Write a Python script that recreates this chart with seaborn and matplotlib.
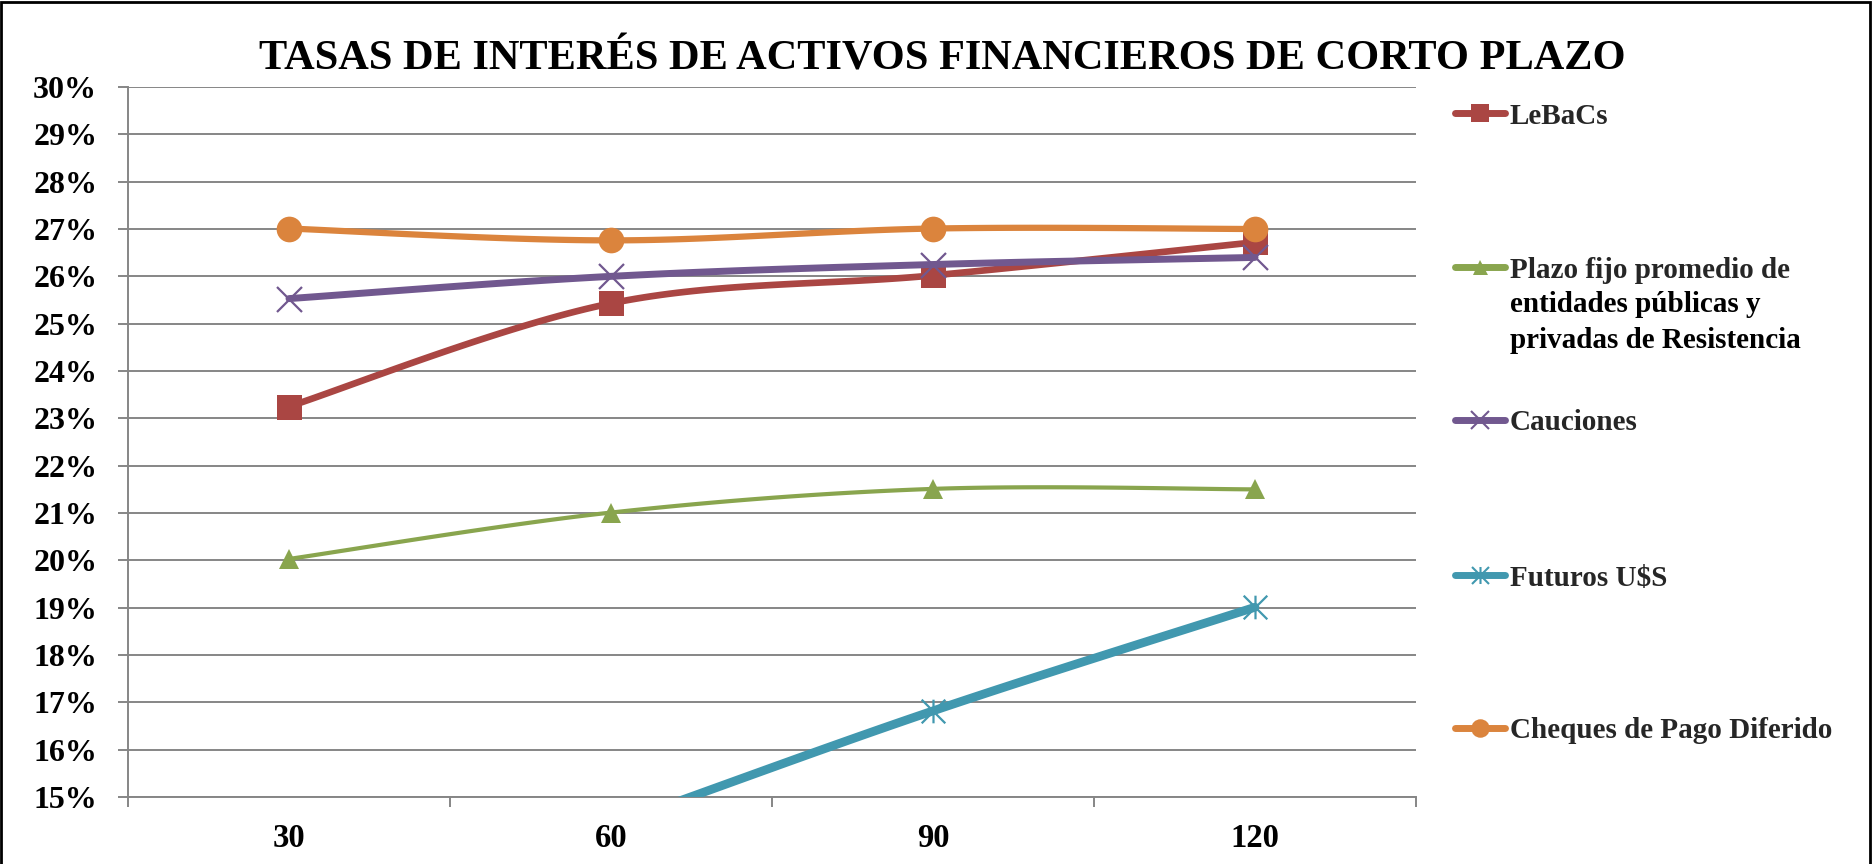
import numpy as np
import matplotlib
matplotlib.use('Agg')
import matplotlib.pyplot as plt
from matplotlib.lines import Line2D
from matplotlib.patches import Rectangle
from matplotlib.path import Path
from matplotlib.ticker import PercentFormatter, FixedLocator
import seaborn as sns

# Datos (tasas)
plazos = ['30', '60', '90', '120']
lebacs = [0.2325, 0.2543, 0.2602, 0.2672]
plazo_fijo = [0.2003, 0.2101, 0.2151, 0.2150]
cauciones = [0.2553, 0.2600, 0.2625, 0.2640]
futuros = [0.1200, 0.1440, 0.1682, 0.1901]
cheques = [0.2701, 0.2676, 0.2701, 0.2700]

nombres = ['LeBaCs', 'Plazo fijo promedio de', 'Cauciones', 'Futuros U$S',
           'Cheques de Pago Diferido']
series = [lebacs, plazo_fijo, cauciones, futuros, cheques]
colores = ['#AA4643', '#89A54E', '#71588F', '#4198AF', '#DB843D']

# marcador "estrella" de Excel: aspa + barra vertical
estrella = Path([(0, -1), (0, 1), (-1, -1), (1, 1), (-1, 1), (1, -1)],
                [Path.MOVETO, Path.LINETO, Path.MOVETO, Path.LINETO, Path.MOVETO, Path.LINETO])
marcadores = ['s', '^', 'x', estrella, 'o']
tam_marc = [18, 15, 18, 17, 18.5]
anchos = [4.8, 3.0, 5.0, 6.3, 4.5]
lineales = [False, False, True, True, False]


def suavizar(y, pasos=40):
    # curva suavizada tipo Excel (Bezier entre puntos consecutivos)
    x = np.arange(len(y), dtype=float)
    p = np.column_stack([x, np.asarray(y, dtype=float)])
    n = len(p)
    out = []
    for i in range(n - 1):
        p0, p3 = p[i], p[i + 1]
        prev = p[i - 1] if i > 0 else p[i]
        nxt = p[i + 2] if i + 2 < n else p[i + 1]
        c1 = p0 + (p3 - prev) / 6
        c2 = p3 - (nxt - p0) / 6
        t = np.linspace(0, 1, pasos)[:, None]
        seg = ((1 - t) ** 3) * p0 + 3 * ((1 - t) ** 2) * t * c1 + 3 * (1 - t) * t ** 2 * c2 + t ** 3 * p3
        out.append(seg if i == 0 else seg[1:])
    out = np.vstack(out)
    return out[:, 0], out[:, 1]


sns.set_theme(style='white')
plt.rcParams['font.family'] = ['Liberation Serif', 'DejaVu Serif']
plt.rcParams['font.weight'] = 'bold'

fig = plt.figure(figsize=(18.74, 8.64), dpi=100)
ax = fig.add_axes([0.0683, 0.0775, 0.6873, 0.8218])

xpos = np.arange(len(plazos))
for k, (vals, col, mk, ms, lw, lin) in enumerate(zip(series, colores, marcadores, tam_marc,
                                                     anchos, lineales)):
    xs, ys = suavizar(vals)
    sns.lineplot(x=xs, y=ys, sort=False, estimator=None, color=col, linewidth=lw,
                 ax=ax, zorder=3 + k, solid_capstyle='round')
    ax.plot(xpos, vals, linestyle='none', marker=mk, markersize=ms, color=col,
            markeredgecolor=col, markeredgewidth=1.6 if lin else 0,
            markerfacecolor='none' if lin else col, zorder=3 + k,
            clip_on=min(vals) < 0.15)

ax.set_xlim(-0.5, len(plazos) - 0.5)
ax.set_ylim(0.15, 0.30)
ax.set_yticks(np.arange(0.15, 0.3001, 0.01))
ax.yaxis.set_major_formatter(PercentFormatter(1, decimals=0))
ax.set_xticks(xpos)
ax.set_xticklabels(plazos)
ax.xaxis.set_minor_locator(FixedLocator(np.arange(-0.5, len(plazos), 1.0)))

gris = '#868686'
ax.grid(axis='y', color=gris, linewidth=1.4)
ax.grid(axis='x', visible=False)
for s in ['top', 'right']:
    ax.spines[s].set_visible(False)
for s in ['left', 'bottom']:
    ax.spines[s].set_color(gris)
    ax.spines[s].set_linewidth(1.4)
ax.tick_params(axis='y', which='major', left=True, length=7.2, width=1.4, color=gris,
               labelsize=23, pad=15, labelcolor='black')
ax.tick_params(axis='x', which='major', bottom=False, length=0, labelsize=23.5, pad=19,
               labelcolor='black')
ax.tick_params(axis='x', which='minor', bottom=True, length=7.2, width=1.4, color=gris)
for lab in ax.get_yticklabels() + ax.get_xticklabels():
    lab.set_fontweight('bold')

fig.text(0.503, 1 - 70 / 864, 'TASAS DE INTERÉS DE ACTIVOS FINANCIEROS DE CORTO PLAZO',
         ha='center', va='baseline', fontsize=30.5, fontweight='bold', color='black')

# Leyenda: una entrada por casilla, espaciadas como en el original
ley_y = [116, 270, 423, 578, 731]
fs_ley = 21
for nombre, col, mk, ms, lin, ypx in zip(nombres, colores, marcadores, tam_marc, lineales, ley_y):
    h = Line2D([], [], color=col, linewidth=5, marker=mk, markersize=ms * 0.72,
               markeredgecolor=col, markeredgewidth=1.5 if lin else 0,
               markerfacecolor='none' if lin else col, solid_capstyle='round')
    leg = fig.legend(handles=[h], labels=[nombre], loc='center left',
                     bbox_to_anchor=(1455 / 1874, 1 - ypx / 864), frameon=False,
                     fontsize=fs_ley, handlelength=1.71, handletextpad=0.17,
                     borderpad=0, borderaxespad=0)
    for t in leg.get_texts():
        t.set_fontweight('bold')

x_txt = 1510 / 1874
for linea, ypx in zip(['entidades públicas y', 'privadas de Resistencia'], [305, 340]):
    fig.text(x_txt, 1 - ypx / 864, linea, ha='left', va='center', fontsize=fs_ley,
             fontweight='bold', color='black')

fig.patches.append(Rectangle((1.5 / 1874, -0.02), 1 - 5 / 1874, 1.02 - 1.5 / 864,
                             transform=fig.transFigure, fill=False, edgecolor='black',
                             linewidth=2))

fig.savefig('out.png', dpi=100)
